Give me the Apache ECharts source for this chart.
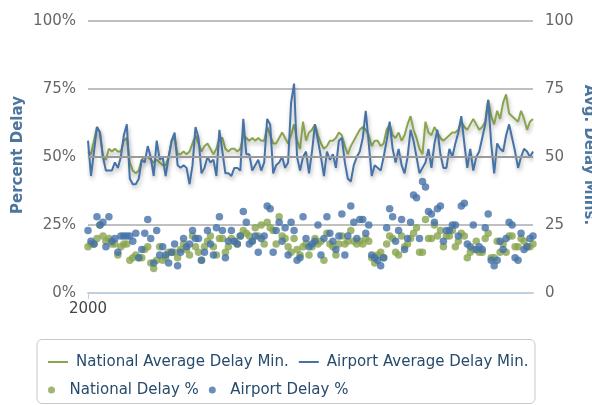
<!DOCTYPE html>
<html>
<head>
<meta charset="utf-8">
<script src="https://cdn.jsdelivr.net/npm/echarts@6/dist/echarts.min.js"></script>
<style>
  html, body { margin: 0; padding: 0; background: #fff; }
  #delayChart { width: 592px; height: 405px; }
</style>
</head>
<body>
<div id="delayChart"></div>
<script>
// monthly, starting Jan 2000
var startYear = 2000;
var monthCount = 150;

var nationalAvgMin = [
  52, 51, 56, 61, 59, 50, 49, 53, 52, 53, 52, 52, 56, 57, 48, 45, 44, 45, 49, 50,
  50, 49, 48, 49, 48, 47, 47, 50, 56, 57, 51, 51, 52, 51, 52, 55, 58, 55, 52,
  54, 55, 53, 51, 53, 57, 57, 53, 52, 53, 53, 52, 53, 58, 57, 56, 57, 56, 57, 56,
  56, 61, 58, 55, 55, 57, 59, 57, 55, 58, 62, 56, 53, 63, 56, 59,
  60, 62, 58, 55, 53, 54, 56, 56, 57, 59, 58, 54, 51, 54, 56, 58, 60, 61, 60, 58,
  54, 56, 56, 54, 55, 60, 62, 58, 57, 59, 56, 58, 62, 65, 60, 57, 53, 51,
  63, 59, 58, 61, 59, 57, 56, 57, 58, 59, 59, 60, 63, 61, 60, 62, 64, 62, 60, 61,
  63, 71, 65, 62, 67, 64, 70, 73, 66, 65, 64, 63, 67, 64, 60, 63, 64
];

var airportAvgMin = [
  56, 43, 52, 61, 59, 50, 45, 45, 45, 48, 46, 50, 58, 62, 42, 40, 40, 42, 49, 48,
  54, 50, 43, 56, 49, 50, 43, 50, 56, 59, 47, 46, 47, 46, 40, 47, 61, 57, 44,
  46, 50, 48, 49, 43, 60, 52, 44, 44, 43, 46, 46, 45, 64, 51, 51, 45, 47, 49, 45,
  48, 64, 62, 44, 47, 48, 50, 46, 48, 70, 77, 50, 45, 50, 52, 44,
  52, 62, 56, 50, 43, 52, 49, 51, 46, 56, 57, 48, 42, 41, 47, 50, 52, 57, 67, 55,
  43, 47, 46, 45, 50, 56, 63, 53, 48, 53, 47, 44, 50, 60, 56, 50, 44, 46,
  48, 53, 46, 55, 60, 51, 46, 46, 53, 50, 55, 59, 65, 55, 46, 53, 45, 50, 52, 57,
  62, 71, 55, 44, 55, 53, 52, 58, 62, 57, 52, 46, 50, 53, 52, 50, 52
];

var nationalDelayPct = [
  17, 18, 18, 20, 25, 21, 19, 20, 18, 18, 14, 17, 18, 18, 12, 13, 14, 13, 13, 16,
  17, 11, 9, 12, 17, 12, 13, 15, 15, 15, 13, 16, 18, 16, 14, 21, 17,
  15, 12, 17, 19, 21, 17, 14, 20, 20, 15, 17, 20, 19, 18, 21, 23, 22, 21, 19, 24,
  21, 25, 18, 26, 24, 23, 18, 28, 21, 20, 17, 15, 20, 16, 14, 17, 18, 14,
  17, 20, 18, 19, 12, 22, 18, 17, 14, 18, 21, 18, 19, 23, 19, 18, 19, 18, 20, 19,
  13, 11, 14, 15, 13, 18, 21, 20, 15, 14, 21, 17, 18, 20, 22, 24, 15, 15,
  27, 20, 20, 25, 21, 23, 17, 21, 21, 23, 17, 19, 22, 21, 13, 15, 16, 19, 15, 15,
  20, 22, 13, 13, 19, 15, 18, 15, 21, 21, 17, 17, 20, 19, 17, 17, 18
];

var airportDelayPct = [
  23, 19, 18, 28, 25, 26, 17, 28, 19, 20, 15, 21, 21, 21, 21, 19, 22, 13, 16, 22,
  27, 20, 11, 23, 14, 17, 14, 11, 15, 18, 10, 15, 20, 17, 18, 23, 20,
  20, 12, 15, 23, 18, 14, 24, 28, 23, 13, 19, 23, 19, 18, 21, 30, 26, 18, 19, 21,
  15, 20, 21, 32, 31, 15, 23, 26, 19, 24, 14, 26, 23, 12, 13, 28, 20, 17,
  18, 19, 25, 14, 20, 28, 22, 19, 16, 21, 29, 14, 21, 32, 26, 20, 27, 27, 22, 25,
  14, 13, 12, 10, 13, 24, 31, 28, 19, 23, 27, 16, 20, 26, 36, 35, 20, 41,
  39, 30, 29, 26, 31, 32, 19, 23, 23, 25, 25, 21, 32, 33, 18, 17, 25, 16, 17, 16,
  24, 29, 12, 10, 12, 19, 16, 20, 26, 25, 13, 12, 22, 16, 17, 20, 21
];

var yTicks = [0, 25, 50, 75, 100];

var months = [];
for (var i = 0; i < monthCount; i++) {
  var y = startYear + Math.floor(i / 12);
  var m = (i % 12) + 1;
  months.push(y + '-' + (m < 10 ? '0' + m : m));
}

var blue = '#4572A7';
var green = '#89A54E';
var titleColor = '#4d759e';
var font = 'DejaVu Sans';

var chart = echarts.init(document.getElementById('delayChart'));

var lineShadow = {
  width: 2,
  shadowColor: 'rgba(0, 0, 0, 0.28)',
  shadowBlur: 4,
  shadowOffsetX: 1,
  shadowOffsetY: 3
};

chart.setOption({
  animation: false,
  textStyle: { fontFamily: font },
  grid: { left: 88, right: 59, top: 21, bottom: 112 },
  graphic: [
    {
      type: 'rect',
      shape: { x: 37, y: 339.5, width: 498, height: 64, r: 5 },
      style: { fill: 'none', stroke: '#c8c8c8', lineWidth: 1 },
      silent: true
    },
    {
      // axis titles as plain text so they sit where the original has them
      type: 'text',
      x: 18, y: 155,
      rotation: Math.PI / 2,
      silent: true,
      style: {
        text: 'Percent Delay',
        fill: titleColor,
        font: 'bold 15px "DejaVu Sans"',
        textAlign: 'center',
        textVerticalAlign: 'middle'
      }
    },
    {
      // right title runs off the edge like the original
      type: 'text',
      x: 589, y: 155,
      rotation: -Math.PI / 2,
      silent: true,
      style: {
        text: 'Avg. Delay Mins.',
        fill: titleColor,
        font: 'bold 15px "DejaVu Sans"',
        textAlign: 'center',
        textVerticalAlign: 'middle'
      }
    }
  ],
  legend: [
    {
      left: 48, top: 354, padding: 0,
      itemWidth: 20, itemHeight: 2, itemGap: 10,
      icon: 'rect',
      textStyle: { color: '#274b6d', fontSize: 15, lineHeight: 16, padding: [0, 0, 0, 3] },
      data: ['National Average Delay Min.', 'Airport Average Delay Min.']
    },
    {
      left: 48, top: 382, padding: 0,
      itemWidth: 20, itemHeight: 7, itemGap: 10,
      icon: 'circle',
      textStyle: { color: '#274b6d', fontSize: 15, lineHeight: 16, padding: [0, 0, 0, 3] },
      data: ['National Delay %', 'Airport Delay %']
    }
  ],
  xAxis: {
    type: 'category',
    data: months,
    boundaryGap: false,
    axisLine: { lineStyle: { color: '#c0d0e0', width: 2 } },
    axisTick: {
      length: 6,
      lineStyle: { color: '#c0d0e0', width: 1 },
      interval: function (idx) { return idx === 0; }
    },
    axisLabel: {
      color: '#444',
      fontSize: 15,
      margin: 9,
      interval: function (idx) { return idx === 0; },
      formatter: function (v) { return v.slice(0, 4); }
    },
    splitLine: { show: false }
  },
  yAxis: [
    {
      type: 'value',
      min: yTicks[0], max: yTicks[yTicks.length - 1], interval: 25,
      axisLine: { show: false },
      axisTick: { show: false },
      axisLabel: { color: '#666', fontSize: 15, margin: 12, formatter: '{value}%', padding: [0, 0, 7, 0] },
      splitLine: { lineStyle: { color: '#c0c0c0', width: 2 } }
    },
    {
      type: 'value',
      min: yTicks[0], max: yTicks[yTicks.length - 1], interval: 25,
      axisLine: { show: false },
      axisTick: { show: false },
      axisLabel: { color: '#666', fontSize: 15, margin: 12, padding: [0, 0, 7, 0] },
      splitLine: { show: false }
    }
  ],
  series: [
    {
      name: 'National Average Delay Min.',
      type: 'line',
      yAxisIndex: 1,
      data: nationalAvgMin,
      showSymbol: false,
      color: green,
      lineStyle: lineShadow,
      z: 3
    },
    {
      name: 'Airport Average Delay Min.',
      type: 'line',
      yAxisIndex: 1,
      data: airportAvgMin,
      showSymbol: false,
      color: blue,
      lineStyle: lineShadow,
      z: 4,
      markLine: {
        silent: true,
        symbol: 'none',
        label: { show: false },
        lineStyle: { color: '#999', width: 2, type: 'solid' },
        data: [{ yAxis: 50 }]
      }
    },
    {
      name: 'National Delay %',
      type: 'scatter',
      yAxisIndex: 0,
      data: nationalDelayPct,
      symbolSize: 7.5,
      color: green,
      z: 2
    },
    {
      name: 'Airport Delay %',
      type: 'scatter',
      yAxisIndex: 0,
      data: airportDelayPct,
      symbolSize: 7.5,
      color: blue,
      z: 2
    }
  ]
});
</script>
</body>
</html>
